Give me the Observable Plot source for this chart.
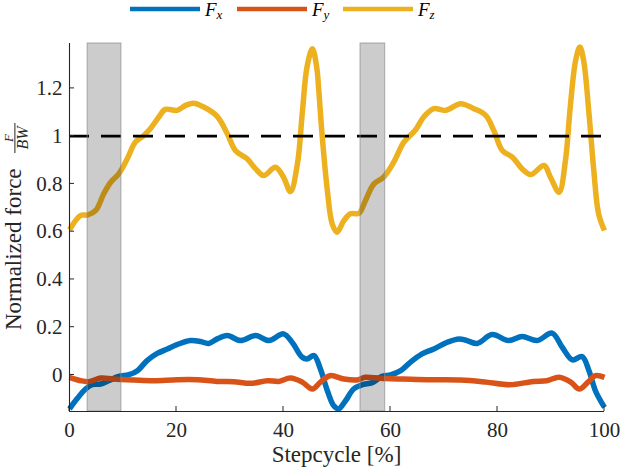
<!DOCTYPE html>
<html>
<head>
<meta charset="utf-8">
<script src="https://cdn.jsdelivr.net/npm/d3@7"></script>
<script src="https://cdn.jsdelivr.net/npm/@observablehq/plot@0.6"></script>
<style>
  html, body { margin: 0; padding: 0; background: #fff; }
  #chart svg { display: block; }
</style>
</head>
<body>
<div id="chart"></div>
<script>
// ---- Data (stepcycle %, force / body weight) ----
const fzX = [0, 2.1, 3.4, 4.9, 6.4, 7.7, 9.2, 10.8, 12.3, 13.9, 15.1, 16.7, 17.9, 20.1, 21.7, 23.2, 25.1, 27.6, 29.5, 31.0, 33.2, 34.8, 36.3, 38.5, 40.0, 41.3, 42.6, 43.5, 44.4, 45.4, 46.2, 46.6, 47.2, 48.2, 49.1, 50.0, 51.3, 52.5, 54.1, 55.3, 56.9, 58.7, 60.6, 62.5, 64.7, 66.2, 68.1, 70.3, 73.1, 75.6, 77.8, 79.3, 80.9, 82.8, 84.6, 86.2, 88.7, 89.9, 91.5, 92.7, 93.6, 94.6, 95.4, 96.1, 97.1, 98.0, 98.9, 100];
const fzV = [0.608, 0.668, 0.670, 0.689, 0.759, 0.807, 0.842, 0.905, 0.975, 1.003, 1.031, 1.080, 1.112, 1.108, 1.129, 1.138, 1.122, 1.083, 1.010, 0.940, 0.905, 0.863, 0.835, 0.870, 0.828, 0.768, 0.884, 1.094, 1.290, 1.366, 1.290, 1.190, 1.010, 0.772, 0.633, 0.598, 0.647, 0.675, 0.677, 0.730, 0.800, 0.828, 0.891, 0.975, 1.027, 1.080, 1.115, 1.108, 1.136, 1.115, 1.087, 1.024, 0.940, 0.912, 0.863, 0.839, 0.877, 0.828, 0.765, 0.898, 1.122, 1.317, 1.373, 1.317, 1.094, 0.856, 0.675, 0.605];

const fxX = [0, 1.4, 3.0, 4.2, 5.8, 7.3, 9.2, 11.1, 12.7, 14.5, 16.4, 18.3, 20.1, 22.6, 24.5, 26.0, 27.6, 29.5, 32.0, 34.8, 37.3, 40.0, 41.6, 43.5, 44.4, 45.7, 46.9, 48.2, 49.4, 50.3, 51.6, 53.1, 54.7, 56.6, 58.4, 60.0, 61.9, 63.7, 65.9, 68.1, 70.6, 72.8, 74.3, 76.2, 79.0, 82.1, 84.6, 87.4, 90.2, 92.1, 94.0, 95.8, 97.1, 98.3, 100];
const fxV = [-0.142, -0.100, -0.059, -0.041, -0.038, -0.024, -0.006, 0.001, 0.018, 0.060, 0.090, 0.109, 0.127, 0.144, 0.140, 0.132, 0.151, 0.165, 0.144, 0.165, 0.144, 0.172, 0.137, 0.074, 0.067, 0.081, 0.025, -0.066, -0.129, -0.142, -0.108, -0.059, -0.041, -0.032, -0.006, 0.000, 0.018, 0.053, 0.088, 0.109, 0.137, 0.151, 0.144, 0.132, 0.169, 0.144, 0.161, 0.144, 0.175, 0.116, 0.063, 0.077, 0.018, -0.066, -0.136];

const fyX = [0, 2.1, 3.6, 5.8, 8.2, 12.0, 15.7, 20.1, 23.9, 27.6, 30.7, 33.9, 37.0, 39.1, 41.3, 43.5, 45.4, 46.9, 48.7, 51.3, 53.7, 55.3, 58.1, 61.9, 66.9, 73.1, 77.9, 82.3, 86.7, 89.2, 91.5, 93.7, 95.3, 96.9, 98.3, 100];
const fyV = [-0.010, -0.024, -0.028, -0.013, -0.017, -0.021, -0.024, -0.020, -0.020, -0.027, -0.028, -0.035, -0.024, -0.027, -0.013, -0.030, -0.059, -0.030, -0.003, -0.017, -0.021, -0.010, -0.014, -0.017, -0.020, -0.021, -0.030, -0.041, -0.027, -0.024, -0.010, -0.030, -0.059, -0.030, -0.003, -0.010];

const seriesKeys = ["Fx", "Fy", "Fz"];
const seriesSubs = ["x", "y", "z"];
const seriesColors = ["#0072BD", "#D95319", "#EDB120"];

const shadeStart = [3.4, 54.4];
const shadeEnd = [9.7, 59.0];

const refLevel = [1];
const xTicks = [0, 20, 40, 60, 80, 100];
const yTicks = [0, 0.2, 0.4, 0.6, 0.8, 1, 1.2];
const xDomain = [0, 100];
const yDomain = [-0.153, 1.388];

// ---- Build tables ----
const rows = [];
fxX.forEach((x, i) => rows.push({s: "Fx", x, v: fxV[i]}));
fyX.forEach((x, i) => rows.push({s: "Fy", x, v: fyV[i]}));
fzX.forEach((x, i) => rows.push({s: "Fz", x, v: fzV[i]}));
const shades = shadeStart.map((a, i) => ({x1: a, x2: shadeEnd[i]}));

const FONT = "'Liberation Serif', 'Times New Roman', serif";
const INK = "#262626";

const plot = Plot.plot({
  width: 623,
  height: 472,
  marginLeft: 69,
  marginRight: 19,
  marginTop: 43,
  marginBottom: 61,
  style: {fontFamily: FONT, fontSize: "21px", color: INK, background: "#fff", overflow: "visible"},
  x: {domain: xDomain},
  y: {domain: yDomain},
  color: {domain: seriesKeys, range: seriesColors},
  marks: [
    Plot.line(rows, {x: "x", y: "v", z: "s", stroke: "s", strokeWidth: 5.5, curve: "catmull-rom", strokeLinecap: "butt"}),
    Plot.ruleY(refLevel, {stroke: "#000", strokeWidth: 2.6, strokeDasharray: "20,12"}),
    Plot.rect(shades, {x1: "x1", x2: "x2", fill: "#000", fillOpacity: 0.2, stroke: "#8a8a8a", strokeOpacity: 0.6, strokeWidth: 1.2}),
    Plot.ruleX([xDomain[0]], {stroke: INK, strokeWidth: 1.1}),
    Plot.ruleY([yDomain[0]], {stroke: INK, strokeWidth: 1.1}),
    Plot.axisX(xTicks, {tickSize: 0, tickPadding: 11, fontSize: 21, label: null, fill: INK}),
    Plot.axisY(yTicks, {tickSize: 0, tickPadding: 7, fontSize: 21, label: null, fill: INK,
      tickFormat: d => String(+d.toFixed(1))})
  ]
});

document.getElementById("chart").appendChild(plot);

// ---- Inward ticks, labels and legend using the plot's scales ----
const sx = plot.scale("x"), sy = plot.scale("y");
const svg = d3.select(plot);
const left = sx.apply(xDomain[0]);
const bottom = sy.apply(yDomain[0]);
const tg = svg.append("g").attr("stroke", INK).attr("stroke-width", 1);
xTicks.forEach(t => tg.append("line")
  .attr("x1", sx.apply(t)).attr("x2", sx.apply(t))
  .attr("y1", bottom).attr("y2", bottom - 5));
yTicks.forEach(t => tg.append("line")
  .attr("x1", left).attr("x2", left + 5)
  .attr("y1", sy.apply(t)).attr("y2", sy.apply(t)));

// x label
svg.append("text")
  .attr("x", (sx.apply(xDomain[0]) + sx.apply(xDomain[1])) / 2)
  .attr("y", 462)
  .attr("text-anchor", "middle")
  .attr("font-family", FONT).attr("font-size", 23).attr("fill", INK)
  .text("Stepcycle [%]");

// y label with fraction F / BW
const yl = svg.append("g").attr("transform", "translate(20.7,330) rotate(-90)")
  .attr("font-family", FONT).attr("fill", INK);
yl.append("text").attr("x", 0).attr("y", 0).attr("font-size", 23)
  .attr("text-anchor", "start").text("Normalized force");
const fracC = 192;
yl.append("line").attr("x1", fracC - 15).attr("x2", fracC + 15)
  .attr("y1", -5.8).attr("y2", -5.8).attr("stroke", INK).attr("stroke-width", 1);
yl.append("text").attr("x", fracC).attr("y", -8.2).attr("text-anchor", "middle")
  .attr("font-size", 13).attr("font-style", "italic").text("F");
yl.append("text").attr("x", fracC).attr("y", 7.3).attr("text-anchor", "middle")
  .attr("font-size", 16).attr("font-style", "italic").text("BW");

// legend
const legX = [130, 237, 343];
const lg = svg.append("g").attr("font-family", FONT).attr("fill", "#000");
seriesKeys.forEach((k, i) => {
  lg.append("line").attr("x1", legX[i]).attr("x2", legX[i] + 70)
    .attr("y1", 9).attr("y2", 9)
    .attr("stroke", seriesColors[i]).attr("stroke-width", 4.7);
  const t = lg.append("text").attr("x", legX[i] + 75).attr("y", 16)
    .attr("text-anchor", "start")
    .attr("font-size", 19).attr("font-style", "italic");
  t.append("tspan").text("F");
  t.append("tspan").attr("font-size", 13).attr("dy", 3).text(seriesSubs[i]);
});
</script>
</body>
</html>
